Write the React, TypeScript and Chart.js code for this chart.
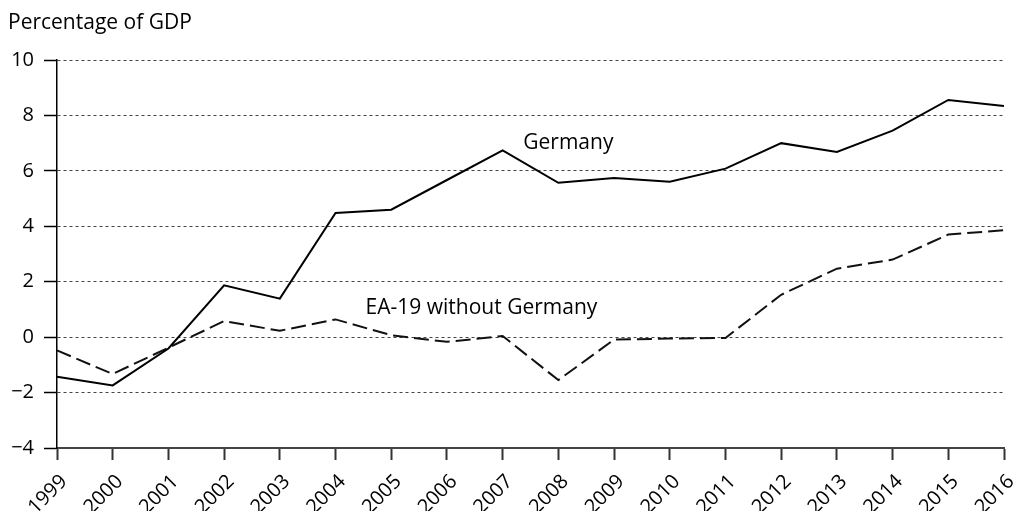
import React, { useEffect, useRef } from "react";
import { Chart, registerables } from "chart.js";

Chart.register(...registerables);

const years = ["1999","2000","2001","2002","2003","2004","2005","2006","2007","2008","2009","2010","2011","2012","2013","2014","2015","2016"];
const germany = [-1.43,-1.74,-0.41,1.87,1.39,4.48,4.6,5.67,6.74,5.57,5.74,5.61,6.08,7.0,6.68,7.45,8.56,8.34];
const ea19exGermany = [-0.48,-1.33,-0.38,0.58,0.23,0.64,0.07,-0.17,0.04,-1.55,-0.09,-0.05,-0.03,1.53,2.47,2.8,3.7,3.86];
const yTicks = [-4,-2,0,2,4,6,8,10];
const axisTitle = "Percentage of GDP";
const labelGermany = { text: "Germany", x: 8.37, y: 6.99 };
const labelEA = { text: "EA-19 without Germany", x: 5.54, y: 1.05 };

const FONT = "'Open Sans', 'DejaVu Sans', sans-serif";

export default function App() {
  const ref = useRef<HTMLCanvasElement>(null);
  useEffect(() => {
    document.body.style.margin = "0";
    const canvas = ref.current!;
    const textPlugin = {
      id: "texts",
      afterDraw(chart: any) {
        const ctx = chart.ctx;
        const xs = chart.scales.x;
        const ys = chart.scales.y;
        ctx.save();
        ctx.fillStyle = "#000";
        ctx.font = `21px ${FONT}`;
        ctx.textBaseline = "middle";
        ctx.textAlign = "left";
        ctx.fillText(axisTitle, 8, 23);
        for (const l of [labelGermany, labelEA]) {
          ctx.fillText(l.text, xs.getPixelForValue(l.x), ys.getPixelForValue(l.y));
        }
        ctx.restore();
      },
    };
    const chart = new Chart(canvas, {
      type: "line",
      data: {
        labels: years,
        datasets: [
          {
            label: "Germany",
            data: germany,
            borderColor: "#000",
            borderWidth: 2,
            pointRadius: 0,
            tension: 0,
          },
          {
            label: "EA-19 without Germany",
            data: ea19exGermany,
            borderColor: "#111",
            borderWidth: 2,
            borderDash: [15, 6],
            pointRadius: 0,
            tension: 0,
          },
        ],
      },
      options: {
        animation: false,
        responsive: false,
        devicePixelRatio: 1,
        layout: { padding: { top: 60, right: 12, left: 0, bottom: 0 } },
        plugins: { legend: { display: false }, tooltip: { enabled: false } },
        scales: {
          x: {
            offset: false,
            grid: { drawOnChartArea: false, tickLength: 12, tickColor: "#333", tickWidth: 2 },
            border: { color: "#444", width: 2 },
            ticks: {
              color: "#000",
              font: { size: 20, family: FONT },
              minRotation: 45,
              maxRotation: 45,
              padding: 10,
              labelOffset: 7,
              autoSkip: false,
            },
            afterFit(scale: any) {
              scale.height = 63;
              scale.paddingLeft = 0;
              scale.paddingRight = 0;
            },
          },
          y: {
            min: -4,
            max: 10,
            afterBuildTicks(scale: any) { scale.ticks = yTicks.map((v) => ({ value: v })); },
            grid: { color: "#444", lineWidth: 1, tickLength: 13, tickColor: "#000", tickWidth: 1.5, tickBorderDash: [] },
            border: { color: "#000", width: 1.5, dash: [3, 3] },
            ticks: {
              color: "#000",
              font: { size: 20, family: FONT },
              padding: 10,
              callback: (v: any) => (v < 0 ? "\u2212" + Math.abs(v) : String(v)),
            },
            afterFit(scale: any) { scale.width = 57; },
          },
        },
      },
      plugins: [textPlugin],
    });
    return () => chart.destroy();
  }, []);
  return <canvas ref={ref} width={1016} height={511} style={{ display: "block" }} />;
}
